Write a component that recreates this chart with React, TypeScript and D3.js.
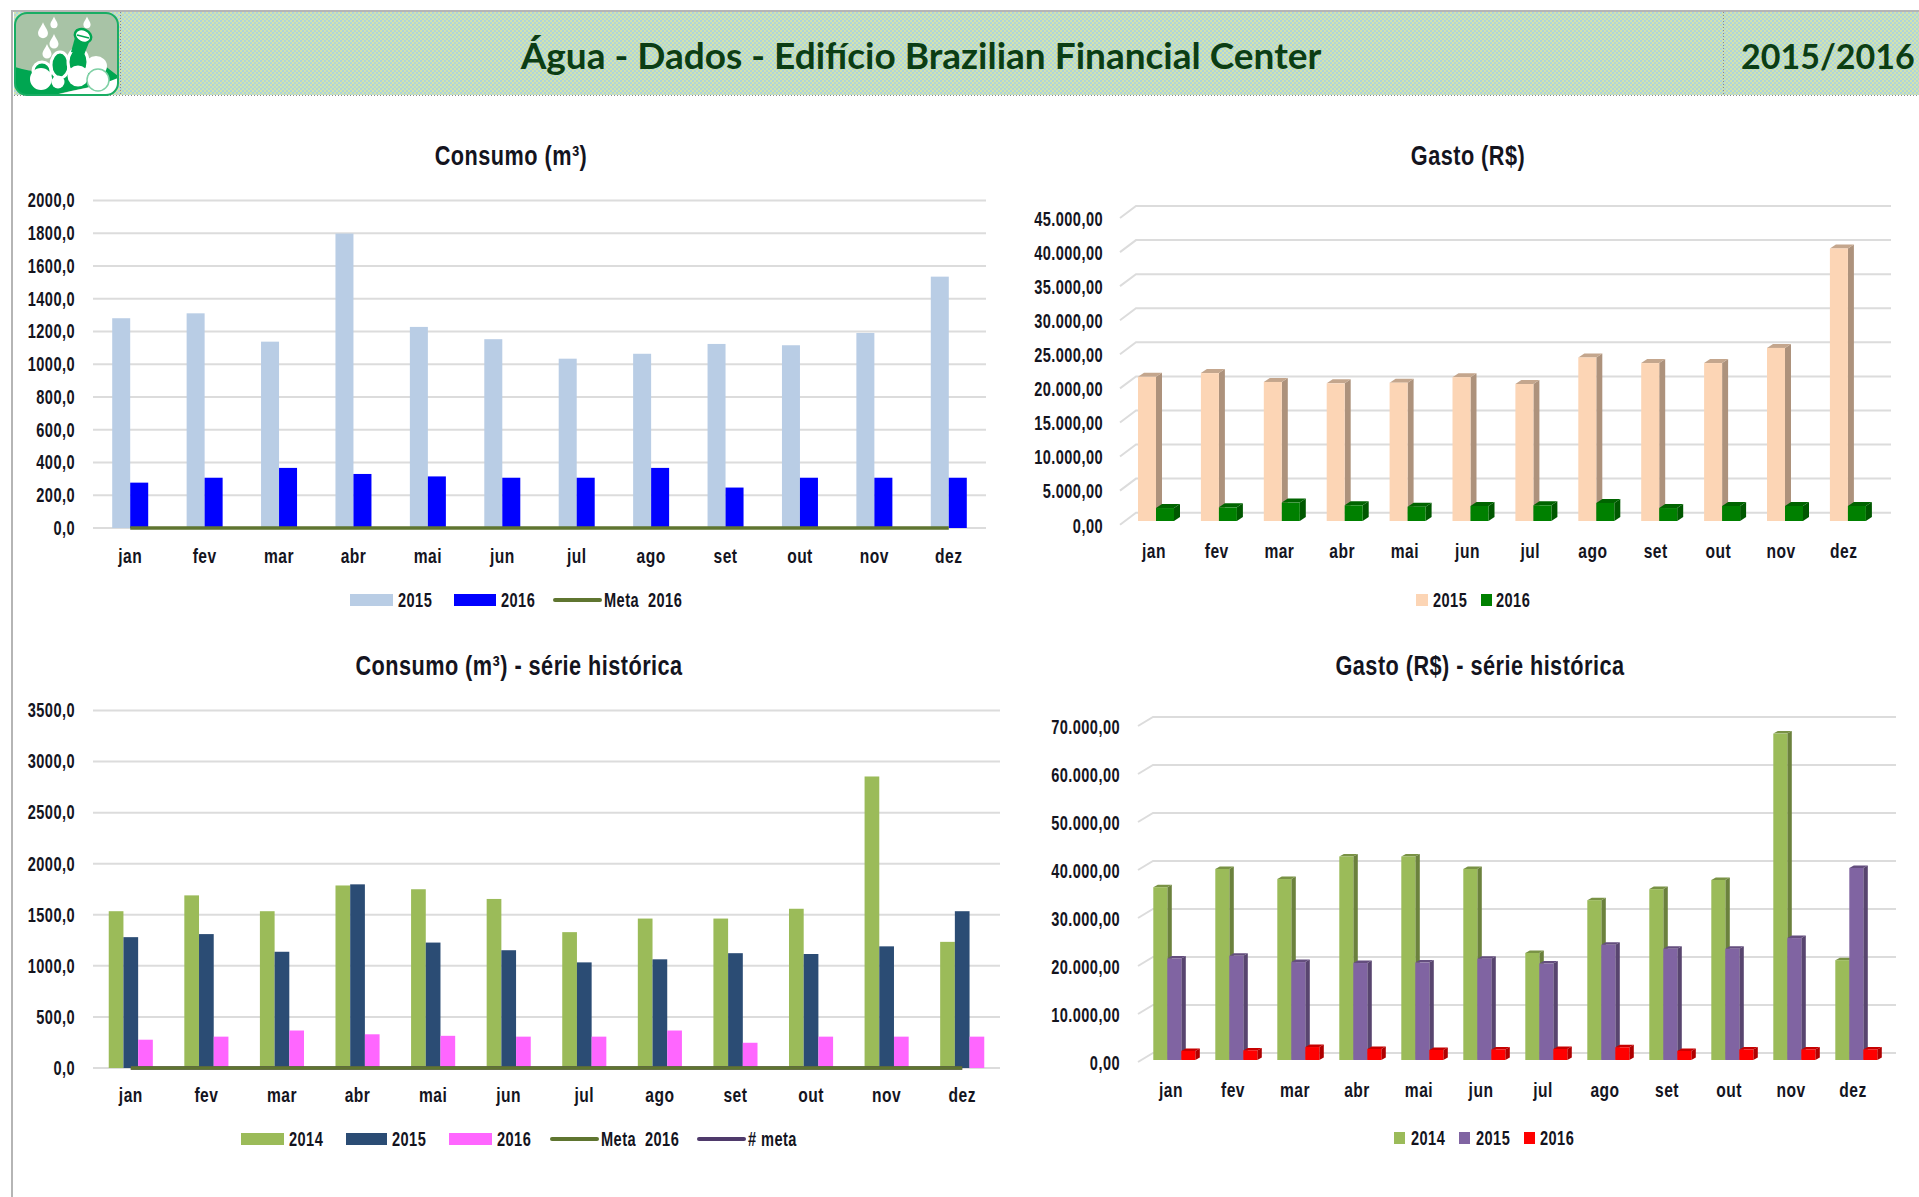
import React from "react";
import * as d3 from "d3";

const months = ["jan", "fev", "mar", "abr", "mai", "jun", "jul", "ago", "set", "out", "nov", "dez"];

// Consumo (m3)
const consumo2014 = [1535, 1690, 1535, 1787, 1750, 1655, 1330, 1463, 1463, 1559, 2854, 1235];
const consumo2015 = [1281, 1311, 1138, 1798, 1228, 1153, 1034, 1064, 1124, 1116, 1191, 1535];
const consumo2016 = [277, 307, 367, 330, 315, 307, 307, 367, 247, 307, 307, 307];
const meta2016 = [0, 0, 0, 0, 0, 0, 0, 0, 0, 0, 0, 0];
const difMeta = [0, 0, 0, 0, 0, 0, 0, 0, 0, 0, 0, 0];

// Gasto (R$)
const gasto2014 = [36000, 39800, 37700, 42400, 42400, 39800, 22300, 33300, 35600, 37500, 68000, 20800];
const gasto2015 = [21150, 21700, 20400, 20200, 20300, 21100, 20100, 24000, 23170, 23170, 25400, 40000];
const gasto2016 = [1900, 2000, 2700, 2300, 2100, 2200, 2300, 2650, 1900, 2200, 2200, 2200];

const consumoTicks = [0, 200, 400, 600, 800, 1000, 1200, 1400, 1600, 1800, 2000];
const consumoHistTicks = [0, 500, 1000, 1500, 2000, 2500, 3000, 3500];
const gastoTicks = [0, 5000, 10000, 15000, 20000, 25000, 30000, 35000, 40000, 45000];
const gastoHistTicks = [0, 10000, 20000, 30000, 40000, 50000, 60000, 70000];

const FONT = "'Liberation Sans Narrow', 'Liberation Sans', sans-serif";
const GRID = "#dcdcdc";
const OLIVE = "#5f7530";
const INK = "#14141e";

const fmt1 = (v: number) => d3.format(".1f")(v).replace(".", ",");
const fmt2 = (v: number) =>
  d3.format(",.2f")(v).replace(/,/g, "#").replace(".", ",").replace(/#/g, ".");

interface Serie {
  values: number[];
  color: string;
}

interface LegendItem {
  label: string;
  color: string;
  kind: "bar" | "line";
  x: number;
  w: number;
  h?: number;
  textX: number;
}

// Agency FB is not available, so squeeze the narrow face a little more
function Label({ x, y, size = 20, squeeze = 0.73, anchor = "middle", children }: any) {
  return (
    <text
      transform={`translate(${x},${y}) scale(${squeeze},1)`}
      fontFamily={FONT}
      fontSize={size}
      fontWeight={700}
      fill={INK}
      textAnchor={anchor}
      dominantBaseline="central"
      letterSpacing={0.6}
    >
      {children}
    </text>
  );
}

function Legend({ items, y }: { items: LegendItem[]; y: number }) {
  return (
    <g>
      {items.map((d) => (
        <g key={d.label}>
          {d.kind === "bar" ? (
            <rect x={d.x} y={y - (d.h ?? 12) / 2} width={d.w} height={d.h ?? 12} fill={d.color} />
          ) : (
            <line x1={d.x} x2={d.x + d.w} y1={y} y2={y} stroke={d.color} strokeWidth={4} strokeLinecap="round" />
          )}
          <Label x={d.textX} y={y} anchor="start">
            {d.label}
          </Label>
        </g>
      ))}
    </g>
  );
}

interface FlatProps {
  title: string;
  titleX: number;
  titleY: number;
  x0: number;
  x1: number;
  yBase: number;
  yTop: number;
  ticks: number[];
  series: Serie[];
  barWidth: number;
  labelY: number;
  legend: LegendItem[];
  legendY: number;
  lines: { values: number[]; color: string }[];
}

function FlatChart(p: FlatProps) {
  const x = d3.scaleBand().domain(months).range([p.x0, p.x1]);
  const y = d3
    .scaleLinear()
    .domain([0, p.ticks[p.ticks.length - 1]])
    .range([p.yBase, p.yTop]);
  const center = (m: string) => (x(m) || 0) + x.bandwidth() / 2;
  const start = (m: string) => center(m) - (p.barWidth * p.series.length) / 2;
  const lineGen = d3
    .line<number>()
    .x((_, i) => center(months[i]))
    .y((d) => y(d));

  return (
    <g>
      <Label x={p.titleX} y={p.titleY} size={28} squeeze={0.775}>
        {p.title}
      </Label>
      {p.ticks.map((t) => (
        <g key={t}>
          <line x1={p.x0} x2={p.x1} y1={y(t)} y2={y(t)} stroke={GRID} strokeWidth={2} />
          <Label x={75} y={y(t)} anchor="end">
            {fmt1(t)}
          </Label>
        </g>
      ))}
      {p.series.map((s, si) =>
        s.values.map((v, i) => (
          <rect
            key={`${si}-${i}`}
            x={start(months[i]) + si * p.barWidth}
            y={y(v)}
            width={p.barWidth}
            height={p.yBase - y(v)}
            fill={s.color}
          />
        ))
      )}
      {p.lines.map((l, i) => (
        <path key={i} d={lineGen(l.values) || ""} fill="none" stroke={l.color} strokeWidth={3.5} />
      ))}
      {months.map((m) => (
        <Label key={m} x={center(m)} y={p.labelY} squeeze={0.78}>
          {m}
        </Label>
      ))}
      <Legend items={p.legend} y={p.legendY} />
    </g>
  );
}

interface Chart3DProps {
  title: string;
  titleX: number;
  titleY: number;
  backX0: number;
  backX1: number;
  backBase: number;
  backTop: number;
  floorDx: number;
  floorDy: number;
  ticks: number[];
  series: Serie[];
  firstBar: number;
  step: number;
  barWidth: number;
  barBase: number;
  depthX: number;
  depthY: number;
  tickRight: number;
  labelX: number;
  labelY: number;
  labelStep: number;
  legend: LegendItem[];
  legendY: number;
}

function Chart3D(p: Chart3DProps) {
  const y = d3
    .scaleLinear()
    .domain([0, p.ticks[p.ticks.length - 1]])
    .range([p.backBase, p.backTop]);
  const pxPerUnit = (p.backBase - p.backTop) / p.ticks[p.ticks.length - 1];
  const x = d3
    .scalePoint()
    .domain(months)
    .range([p.firstBar, p.firstBar + p.step * (months.length - 1)]);
  const labelPos = d3
    .scalePoint()
    .domain(months)
    .range([p.labelX, p.labelX + p.labelStep * (months.length - 1)]);

  return (
    <g>
      <Label x={p.titleX} y={p.titleY} size={28} squeeze={0.775}>
        {p.title}
      </Label>
      {p.ticks.map((t) => (
        <g key={t}>
          <path
            d={`M${p.backX0 - p.floorDx},${y(t) + p.floorDy}L${p.backX0},${y(t)}H${p.backX1}`}
            fill="none"
            stroke={GRID}
            strokeWidth={2}
          />
          <Label x={p.tickRight} y={y(t) + p.floorDy + 1} anchor="end">
            {fmt2(t)}
          </Label>
        </g>
      ))}
      {p.series.map((s, si) =>
        s.values.map((v, i) => {
          const bx = (x(months[i]) || 0) + si * p.barWidth;
          const h = v * pxPerUnit;
          const top = p.barBase - h;
          const dark = d3.color(s.color)!.darker(1.05).toString();
          const mid = d3.color(s.color)!.darker(0.7).toString();
          const { depthX: dx, depthY: dy, barWidth: w } = p;
          return (
            <g key={`${si}-${i}`}>
              <path d={`M${bx + w},${top}l${dx},${-dy}V${p.barBase - dy}l${-dx},${dy}Z`} fill={dark} />
              <path d={`M${bx},${top}l${dx},${-dy}h${w}l${-dx},${dy}Z`} fill={mid} />
              <rect x={bx} y={top} width={w} height={h} fill={s.color} />
            </g>
          );
        })
      )}
      {months.map((m) => (
        <Label key={m} x={labelPos(m) || 0} y={p.labelY} squeeze={0.78}>
          {m}
        </Label>
      ))}
      <Legend items={p.legend} y={p.legendY} />
    </g>
  );
}

function Header() {
  return (
    <g>
      <defs>
        <pattern id="headerDots" width="4" height="4" patternUnits="userSpaceOnUse">
          <rect width="4" height="4" fill="#d3e4ae" />
          <circle cx="1" cy="1" r="1.1" fill="#abd3e0" />
          <circle cx="3" cy="3" r="1.1" fill="#abd3e0" />
        </pattern>
        <clipPath id="logoClip">
          <rect x={15} y={13} width={103} height={82} rx={12} />
        </clipPath>
      </defs>
      <rect x={14} y={12} width={1905} height={83} fill="url(#headerDots)" />
      <line x1={14} x2={1919} y1={95.5} y2={95.5} stroke="#8a8a8a" strokeDasharray="1 2" />
      <line x1={120.5} x2={120.5} y1={12} y2={95} stroke="#8a8a8a" strokeDasharray="1 2" />
      <line x1={1723.5} x2={1723.5} y1={12} y2={95} stroke="#8a8a8a" strokeDasharray="1 2" />
      <line x1={12} x2={12} y1={10} y2={1197} stroke="#b5b5b5" strokeWidth={2} />
      <line x1={11} x2={1919} y1={11} y2={11} stroke="#b5b5b5" strokeWidth={2} />

      {/* logo */}
      <g clipPath="url(#logoClip)">
        <rect x={15} y={13} width={103} height={82} fill="#a8c3a6" />
        <path d="M15,67 C36,74 58,72 70,66 L100,62 L118,76 V80 C90,88 70,90 55,95 H15 Z" fill="#00a651" />
        <path d="M55,95 C75,90 100,86 118,78 V95 Z" fill="#ffffff" />
        <ellipse cx={96} cy={66} rx={11} ry={10} fill="#ffffff" />
        {[[42, 71, 9, 9], [60, 65, 9, 13], [78, 62, 10, 14]].map(([cx, cy, rx, ry], i) => (
          <ellipse key={i} cx={cx} cy={cy} rx={rx} ry={ry} fill="#00a651" stroke="#ffffff" strokeWidth={3} />
        ))}
        <path d="M71,52 L76,34 L90,40 L84,55 Z" fill="#00a651" />
        <ellipse cx={83} cy={36} rx={8.5} ry={6.5} transform="rotate(25 83 36)" fill="#ffffff" stroke="#00a651" strokeWidth={2.5} />
        <line x1={77} y1={35} x2={89} y2={38} stroke="#00a651" strokeWidth={1.5} />
        <circle cx={41} cy={79} r={11} fill="#ffffff" />
        <circle cx={58} cy={82} r={6.5} fill="#ffffff" />
        <circle cx={78} cy={76} r={10.5} fill="#ffffff" />
        <circle cx={98} cy={80} r={11} fill="#ffffff" stroke="#7fd0a5" strokeWidth={1.5} />
      </g>
      {[[43, 31, 1.1], [54, 23, 0.8], [87, 23, 0.8], [54, 42, 1], [47, 52, 1]].map(([cx, cy, k], i) => (
        <path
          key={i}
          transform={`translate(${cx},${cy}) scale(${k})`}
          d="M0,-8 C2,-3 4.5,-1 4.5,2 A4.5,4.5 0 0 1 -4.5,2 C-4.5,-1 -2,-3 0,-8 Z"
          fill="#ffffff"
        />
      ))}
      <rect x={15} y={13} width={103} height={82} rx={12} fill="none" stroke="#19ad63" strokeWidth={2} />

      <text x={921} y={54.5} textAnchor="middle" dominantBaseline="central" fontFamily="Lato, sans-serif" fontSize={37} fontWeight={700} fill="#0b3d14">
        Água - Dados - Edifício Brazilian Financial Center
      </text>
      <text x={1741} y={55} dominantBaseline="central" fontFamily="Lato, sans-serif" fontSize={34} fontWeight={700} fill="#0b3d14">
        2015/2016
      </text>
    </g>
  );
}

export default function App() {
  return (
    <svg width={1919} height={1197} style={{ position: "fixed", left: 0, top: 0, background: "#fff" }}>
      <Header />
      <FlatChart
        title="Consumo (m³)"
        titleX={511}
        titleY={155}
        x0={93}
        x1={986}
        yBase={528}
        yTop={200.5}
        ticks={consumoTicks}
        series={[
          { values: consumo2015, color: "#b9cde5" },
          { values: consumo2016, color: "#0000ff" },
        ]}
        barWidth={18}
        labelY={556}
        lines={[{ values: meta2016, color: OLIVE }]}
        legendY={600}
        legend={[
          { label: "2015", color: "#b9cde5", kind: "bar", x: 350, w: 43, textX: 398 },
          { label: "2016", color: "#0000ff", kind: "bar", x: 454, w: 42, textX: 501 },
          { label: "Meta\u00a0\u00a02016", color: OLIVE, kind: "line", x: 555, w: 45, textX: 604 },
        ]}
      />
      <Chart3D
        title="Gasto (R$)"
        titleX={1468}
        titleY={155}
        backX0={1136}
        backX1={1891}
        backBase={512.7}
        backTop={206}
        floorDx={16}
        floorDy={12}
        ticks={gastoTicks}
        series={[
          { values: gasto2015, color: "#fcd5b5" },
          { values: gasto2016, color: "#008000" },
        ]}
        firstBar={1138}
        step={62.9}
        barWidth={18}
        barBase={521}
        depthX={6}
        depthY={4}
        tickRight={1103}
        labelX={1154}
        labelStep={62.7}
        labelY={551}
        legendY={600}
        legend={[
          { label: "2015", color: "#fcd5b5", kind: "bar", x: 1416, w: 12, textX: 1433 },
          { label: "2016", color: "#008000", kind: "bar", x: 1481, w: 11, textX: 1496 },
        ]}
      />
      <FlatChart
        title="Consumo (m³) - série histórica"
        titleX={519}
        titleY={665}
        x0={93}
        x1={1000}
        yBase={1068}
        yTop={710.5}
        ticks={consumoHistTicks}
        series={[
          { values: consumo2014, color: "#9bbb59" },
          { values: consumo2015, color: "#2b4c74" },
          { values: consumo2016, color: "#ff66ff" },
        ]}
        barWidth={14.7}
        labelY={1095}
        lines={[
          { values: difMeta, color: "#4f3a6b" },
          { values: meta2016, color: OLIVE },
        ]}
        legendY={1139}
        legend={[
          { label: "2014", color: "#9bbb59", kind: "bar", x: 241, w: 43, textX: 289 },
          { label: "2015", color: "#2b4c74", kind: "bar", x: 346, w: 41, textX: 392 },
          { label: "2016", color: "#ff66ff", kind: "bar", x: 449, w: 43, textX: 497 },
          { label: "Meta\u00a0\u00a02016", color: OLIVE, kind: "line", x: 552, w: 45, textX: 601 },
          { label: "# meta", color: "#4f3a6b", kind: "line", x: 699, w: 45, textX: 748 },
        ]}
      />
      <Chart3D
        title="Gasto (R$) - série histórica"
        titleX={1480}
        titleY={665}
        backX0={1153}
        backX1={1896}
        backBase={1053}
        backTop={717}
        floorDx={15}
        floorDy={9}
        ticks={gastoHistTicks}
        series={[
          { values: gasto2014, color: "#9bbb59" },
          { values: gasto2015, color: "#8064a2" },
          { values: gasto2016, color: "#ff0000" },
        ]}
        firstBar={1153.3}
        step={62}
        barWidth={14}
        barBase={1060}
        depthX={4.5}
        depthY={2.5}
        tickRight={1120}
        labelX={1171}
        labelStep={62}
        labelY={1090}
        legendY={1138}
        legend={[
          { label: "2014", color: "#9bbb59", kind: "bar", x: 1394, w: 11, textX: 1411 },
          { label: "2015", color: "#8064a2", kind: "bar", x: 1459, w: 11, textX: 1476 },
          { label: "2016", color: "#ff0000", kind: "bar", x: 1524, w: 11, textX: 1540 },
        ]}
      />
    </svg>
  );
}
